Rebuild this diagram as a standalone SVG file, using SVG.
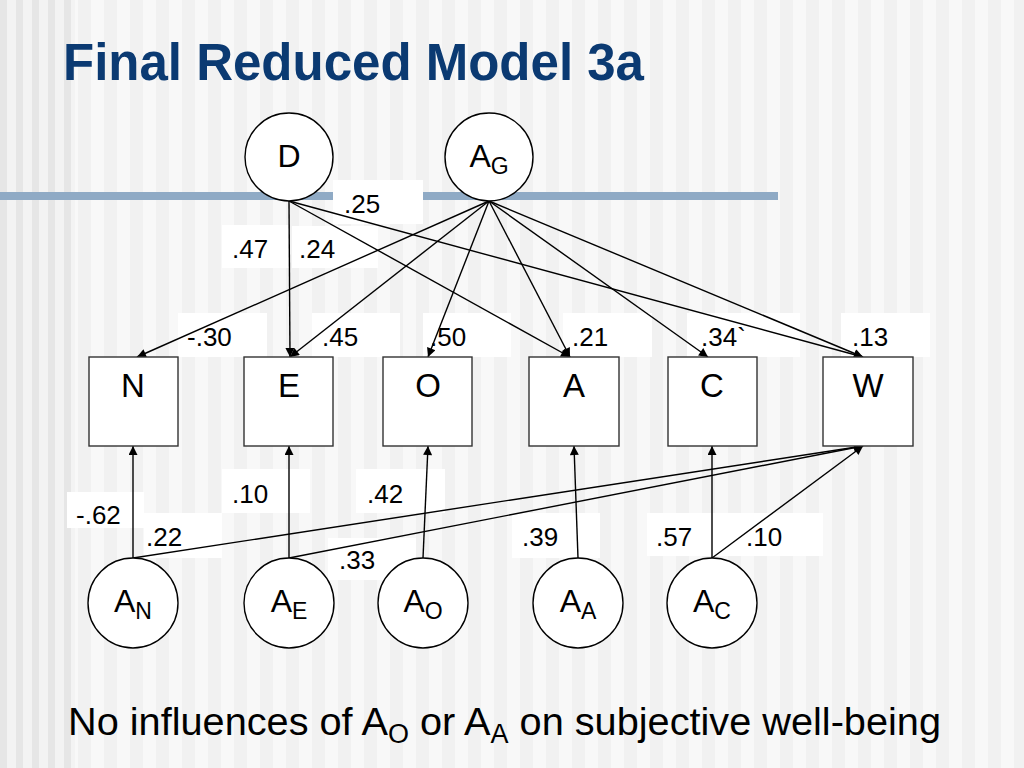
<svg xmlns="http://www.w3.org/2000/svg" width="1024" height="768" viewBox="0 0 1024 768">
<defs>
<pattern id="stripes" x="0" y="0" width="26" height="768" patternUnits="userSpaceOnUse">
<rect width="26" height="768" fill="#F8F8F8"/>
<rect x="0" width="13" height="768" fill="#F1F1F1"/>
</pattern>
<pattern id="stripesL" x="0" y="0" width="16" height="768" patternUnits="userSpaceOnUse">
<rect width="16" height="768" fill="#F3F3F3"/>
<rect x="0" width="7" height="768" fill="#E6E6E6"/>
</pattern>
<marker id="arr" viewBox="0 0 10 10" refX="10" refY="5" markerWidth="11" markerHeight="9" markerUnits="userSpaceOnUse" orient="auto">
<path d="M0,0 L10,5 L0,10 z" fill="#000"/>
</marker>
</defs>
<style>
.lbl{fill:#fff;stroke:none}
.num{font-family:"Liberation Sans",Arial,sans-serif;font-size:26px;fill:#000}
.box{fill:#fff;stroke:#333;stroke-width:1.4}
.circ{fill:#fff;stroke:#000;stroke-width:1.4}
.bl{font-family:"Liberation Sans",Arial,sans-serif;font-size:33px;fill:#000;text-anchor:middle}
.cl{font-family:"Liberation Sans",Arial,sans-serif;font-size:32px;fill:#000;text-anchor:middle}
.sub{font-size:23px}
.edge{stroke:#000;stroke-width:1.4;fill:none}
.arrow{marker-end:url(#arr)}
</style>
<rect width="1024" height="768" fill="url(#stripes)"/>
<rect width="75" height="768" fill="url(#stripesL)"/>
<rect x="0" y="192" width="778" height="8" fill="#8FAAC5"/>
<text x="63" y="80" font-family="Liberation Sans,Arial,sans-serif" font-size="51" font-weight="bold" fill="#0B3A72">Final Reduced Model 3a</text>

<g id="labels">
<rect class="lbl" x="333" y="180" width="90" height="44"/><text class="num" x="344" y="213">.25</text>
<rect class="lbl" x="222" y="225" width="68" height="43"/><text class="num" x="232" y="258">.47</text>
<rect class="lbl" x="292" y="226" width="86" height="42"/><text class="num" x="299" y="258">.24</text>
<rect class="lbl" x="178" y="313" width="89" height="44"/><text class="num" x="187" y="346">-.30</text>
<rect class="lbl" x="312" y="313" width="88" height="44"/><text class="num" x="322" y="346">.45</text>
<rect class="lbl" x="423" y="313" width="88" height="44"/><text class="num" x="430" y="346">.50</text>
<rect class="lbl" x="563" y="313" width="89" height="44"/><text class="num" x="572" y="346">.21</text>
<rect class="lbl" x="687" y="313" width="113" height="44"/><text class="num" x="701" y="346">.34`</text>
<rect class="lbl" x="841" y="313" width="89" height="44"/><text class="num" x="852" y="346">.13</text>
<rect class="lbl" x="67" y="492" width="77" height="36"/><text class="num" x="76" y="524">-.62</text>
<rect class="lbl" x="144" y="513" width="78" height="45"/><text class="num" x="146" y="546">.22</text>
<rect class="lbl" x="222" y="469" width="88" height="44"/><text class="num" x="232" y="503">.10</text>
<rect class="lbl" x="356" y="469" width="89" height="44"/><text class="num" x="367" y="503">.42</text>
<rect class="lbl" x="328" y="538" width="88" height="42"/><text class="num" x="339" y="569">.33</text>
<rect class="lbl" x="512" y="513" width="88" height="45"/><text class="num" x="522" y="546">.39</text>
<rect class="lbl" x="647" y="513" width="88" height="43"/><text class="num" x="656" y="546">.57</text>
<rect class="lbl" x="735" y="513" width="88" height="43"/><text class="num" x="746" y="546">.10</text>
</g>

<g id="connectors">
<line class="edge arrow" x1="289" y1="201" x2="290" y2="357"/>
<line class="edge arrow" x1="289" y1="201" x2="570" y2="357"/>
<line class="edge arrow" x1="289" y1="201" x2="863" y2="357"/>
<line class="edge arrow" x1="489" y1="201" x2="137" y2="357"/>
<line class="edge arrow" x1="489" y1="201" x2="290" y2="357"/>
<line class="edge arrow" x1="489" y1="201" x2="428" y2="357"/>
<line class="edge arrow" x1="489" y1="201" x2="570" y2="357"/>
<line class="edge arrow" x1="489" y1="201" x2="708" y2="357"/>
<line class="edge arrow" x1="489" y1="201" x2="863" y2="357"/>
<line class="edge arrow" x1="133" y1="558" x2="133" y2="446"/>
<line class="edge arrow" x1="133" y1="558" x2="863" y2="446"/>
<line class="edge arrow" x1="289" y1="558" x2="289" y2="446"/>
<line class="edge arrow" x1="289" y1="558" x2="863" y2="446"/>
<line class="edge arrow" x1="423" y1="558" x2="428" y2="446"/>
<line class="edge arrow" x1="578" y1="558" x2="574" y2="446"/>
<line class="edge arrow" x1="712" y1="558" x2="712" y2="446"/>
<line class="edge arrow" x1="712" y1="558" x2="863" y2="446"/>
</g>

<g id="D"><circle class="circ" cx="289" cy="157" r="44"/><text class="cl" x="289" y="167">D</text></g>
<g id="AG"><circle class="circ" cx="489" cy="157" r="44"/><text class="cl" x="489" y="167">A<tspan class="sub" dy="7">G</tspan></text></g>

<g id="N"><rect class="box" x="89" y="357" width="89" height="89"/><text class="bl" x="133" y="397">N</text></g>
<g id="E"><rect class="box" x="244" y="357" width="89" height="89"/><text class="bl" x="289" y="397">E</text></g>
<g id="O"><rect class="box" x="383" y="357" width="89" height="89"/><text class="bl" x="428" y="397">O</text></g>
<g id="A"><rect class="box" x="529" y="357" width="90" height="89"/><text class="bl" x="574" y="397">A</text></g>
<g id="C"><rect class="box" x="668" y="357" width="89" height="89"/><text class="bl" x="712" y="397">C</text></g>
<g id="W"><rect class="box" x="823" y="357" width="90" height="89"/><text class="bl" x="868" y="397">W</text></g>

<g id="AN"><circle class="circ" cx="133" cy="603" r="45"/><text class="cl" x="133" y="612">A<tspan class="sub" dy="7">N</tspan></text></g>
<g id="AE"><circle class="circ" cx="289" cy="603" r="45"/><text class="cl" x="289" y="612">A<tspan class="sub" dy="7">E</tspan></text></g>
<g id="AO"><circle class="circ" cx="423" cy="603" r="45"/><text class="cl" x="423" y="612">A<tspan class="sub" dy="7">O</tspan></text></g>
<g id="AA"><circle class="circ" cx="578" cy="603" r="45"/><text class="cl" x="578" y="612">A<tspan class="sub" dy="7">A</tspan></text></g>
<g id="AC"><circle class="circ" cx="712" cy="603" r="45"/><text class="cl" x="712" y="612">A<tspan class="sub" dy="7">C</tspan></text></g>

<text x="68" y="735" font-family="Liberation Sans,Arial,sans-serif" font-size="39.7" fill="#000">No influences of A<tspan font-size="27" dy="8">O</tspan><tspan dy="-8"> or A</tspan><tspan font-size="27" dy="8">A</tspan><tspan dy="-8"> on subjective well-being</tspan></text>
</svg>
